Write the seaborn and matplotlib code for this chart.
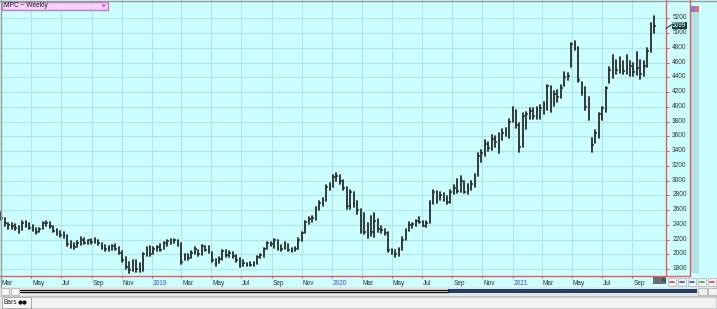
import numpy as np
import pandas as pd
import matplotlib
matplotlib.use("Agg")
import matplotlib.pyplot as plt
import matplotlib.dates as mdates
import matplotlib.transforms as mtransforms
from matplotlib.patches import Rectangle, Polygon, Circle
import seaborn as sns

# ---------------- data ----------------
title = "MPC ~ Weekly"
last_label = "5099"
tab_label = "Bars"
week_start = "2018-03-02"

highs = [2580, 2490, 2430, 2420, 2410, 2380, 2460, 2450, 2420, 2400,
         2360, 2360, 2440, 2450, 2440, 2390, 2340, 2320, 2300, 2260,
         2180, 2150, 2180, 2230, 2220, 2200, 2210, 2220, 2200, 2160,
         2130, 2120, 2130, 2140, 2100, 2040, 1960, 1900, 1920, 1920,
         1890, 2020, 2100, 2110, 2100, 2120, 2140, 2170, 2200, 2210,
         2210, 2200, 2150, 2010, 2000, 2040, 2100, 2060, 2130, 2120,
         2110, 2030, 1940, 1960, 2060, 2060, 2040, 2030, 1990, 1950,
         1920, 1890, 1900, 1900, 1980, 2010, 2090, 2170, 2170, 2210,
         2200, 2130, 2170, 2140, 2090, 2100, 2220, 2310, 2460, 2510,
         2520, 2640, 2730, 2770, 2940, 2970, 3080, 3100, 3080, 3010,
         2920, 2880, 2850, 2730, 2620, 2560, 2420, 2520, 2560, 2480,
         2380, 2340, 2300, 2080, 2060, 2090, 2230, 2350, 2440, 2420,
         2470, 2510, 2450, 2450, 2730, 2880, 2860, 2850, 2830, 2790,
         2870, 2940, 3020, 3060, 2990, 2960, 3000, 3090, 3370, 3420,
         3550, 3520, 3620, 3600, 3640, 3700, 3720, 3830, 4000, 3960,
         3780, 3920, 3930, 3990, 3980, 4000, 4030, 4060, 4300, 4280,
         4220, 4230, 4300, 4470, 4460, 4870, 4890, 4810, 4340, 4270,
         4130, 3580, 3690, 3920, 4000, 4270, 4540, 4700, 4640, 4680,
         4620, 4700, 4620, 4600, 4740, 4640, 4620, 4800, 5140, 5230]

lows = [2470, 2380, 2350, 2340, 2330, 2290, 2330, 2370, 2340, 2320,
        2280, 2300, 2340, 2380, 2360, 2300, 2260, 2240, 2220, 2120,
        2090, 2080, 2100, 2130, 2140, 2140, 2140, 2150, 2130, 2080,
        2050, 2050, 2060, 2060, 2000, 1900, 1800, 1750, 1770, 1760,
        1760, 1770, 1980, 1980, 2000, 2040, 2040, 2080, 2120, 2140,
        2150, 2120, 1870, 1930, 1920, 1950, 2000, 1980, 1990, 2040,
        2020, 1900, 1840, 1880, 1920, 1960, 1960, 1950, 1900, 1830,
        1840, 1840, 1840, 1850, 1870, 1950, 1970, 2080, 2110, 2090,
        2060, 2050, 2080, 2040, 2030, 2050, 2080, 2180, 2290, 2410,
        2440, 2470, 2600, 2660, 2730, 2880, 2920, 2990, 2960, 2880,
        2620, 2620, 2640, 2550, 2290, 2280, 2220, 2250, 2230, 2300,
        2290, 2270, 2030, 2000, 1970, 1980, 2060, 2200, 2320, 2360,
        2380, 2420, 2380, 2370, 2430, 2680, 2700, 2740, 2720, 2680,
        2700, 2820, 2830, 2850, 2830, 2820, 2880, 2920, 3060, 3250,
        3340, 3400, 3420, 3450, 3380, 3550, 3600, 3580, 3800, 3720,
        3390, 3450, 3700, 3840, 3830, 3830, 3840, 3900, 3960, 3930,
        4010, 4060, 4120, 4280, 4360, 4540, 4770, 4340, 4160, 3960,
        3820, 3390, 3510, 3580, 3820, 3930, 4320, 4390, 4450, 4460,
        4440, 4450, 4420, 4420, 4430, 4380, 4420, 4540, 4740, 5000]

closes = [2500, 2420, 2400, 2380, 2360, 2330, 2430, 2390, 2360, 2340,
          2300, 2340, 2420, 2430, 2380, 2320, 2280, 2270, 2250, 2140,
          2110, 2100, 2160, 2200, 2160, 2190, 2170, 2200, 2150, 2100,
          2080, 2090, 2110, 2080, 2020, 1920, 1830, 1790, 1880, 1800,
          1780, 2000, 2080, 2000, 2070, 2100, 2060, 2150, 2180, 2190,
          2200, 2150, 1900, 1990, 1950, 2020, 2070, 2000, 2110, 2060,
          2040, 1930, 1870, 1940, 2040, 1990, 2020, 1980, 1920, 1850,
          1880, 1870, 1860, 1880, 1970, 1990, 2080, 2150, 2140, 2190,
          2080, 2070, 2140, 2060, 2060, 2080, 2200, 2290, 2440, 2480,
          2490, 2610, 2700, 2750, 2910, 2920, 3050, 3060, 3000, 2900,
          2650, 2850, 2680, 2600, 2320, 2300, 2260, 2300, 2460, 2340,
          2330, 2290, 2060, 2030, 2000, 2070, 2200, 2330, 2400, 2410,
          2450, 2440, 2390, 2430, 2700, 2850, 2760, 2800, 2750, 2710,
          2850, 2900, 2860, 2990, 2850, 2920, 2950, 3060, 3330, 3380,
          3500, 3440, 3560, 3520, 3440, 3650, 3680, 3800, 3950, 3760,
          3460, 3880, 3900, 3950, 3870, 3960, 3990, 4020, 4280, 4000,
          4180, 4130, 4260, 4400, 4420, 4850, 4800, 4360, 4200, 4000,
          3850, 3480, 3650, 3900, 3980, 4250, 4500, 4600, 4500, 4560,
          4480, 4520, 4560, 4470, 4520, 4450, 4560, 4760, 5120, 5099]

y_ticks = list(range(1800, 5201, 200))
month_ticks = pd.date_range("2018-03-01", "2021-09-01", freq="2MS")
month_labels = [d.strftime("%Y") if d.month == 1 else d.strftime("%b") for d in month_ticks]

# ---------------- style ----------------
sns.set_style("white")
plt.rcParams["font.family"] = ["Liberation Sans", "DejaVu Sans"]

W, H = 717, 309
fig = plt.figure(figsize=(W / 100, H / 100), dpi=100)
fig.patch.set_facecolor("#ececec")

CYAN = "#ccffff"
RED = "#f05a5a"

bg = fig.add_axes([0, 0, 1, 1], zorder=-10)
bg.set_xlim(0, W); bg.set_ylim(H, 0); bg.axis("off")
fg = fig.add_axes([0, 0, 1, 1], zorder=10)
fg.set_xlim(0, W); fg.set_ylim(H, 0); fg.axis("off")

# background areas
bg.add_patch(Rectangle((0, 0), W, 287, facecolor=CYAN, edgecolor="none"))
bg.add_patch(Rectangle((690, 12), 9, 261, facecolor="#b3e2e2", edgecolor="none"))
bg.add_patch(Rectangle((0, 287), W, 8, facecolor="#e4e4e4", edgecolor="none"))
bg.add_patch(Rectangle((0, 295), W, 14, facecolor="#e8e8e8", edgecolor="none"))

# ---------------- main chart ----------------
ax = fig.add_axes([0, (H - 276) / H, 666 / W, 276 / H], zorder=1)
ax.set_facecolor(CYAN)

dates = pd.date_range(week_start, periods=len(closes), freq="7D")
n = len(dates)
long = pd.DataFrame({
    "date": np.repeat(dates, 2),
    "price": np.ravel(np.column_stack([lows, highs])),
    "week": np.repeat(np.arange(n), 2),
})
sns.lineplot(data=long, x="date", y="price", units="week", estimator=None,
             color="#2a2a2a", lw=1.3, ax=ax, legend=False, sort=False)
dn = mdates.date2num(dates.to_pydatetime())
ax.hlines(closes, dn, dn + 3.5, color="#2a2a2a", lw=1.1)

ax.set_xlim(mdates.date2num(pd.Timestamp("2018-02-27")), mdates.date2num(pd.Timestamp("2021-11-08")))
ax.set_ylim(1708, 5448)
ax.set_xlabel(""); ax.set_ylabel("")

ax.set_yticks(y_ticks)
ax.set_yticklabels([str(v) for v in y_ticks])
ax.yaxis.tick_right()
ax.tick_params(axis="y", direction="out", length=2, width=0.8, color=RED, pad=2.5,
               labelsize=4.7, labelcolor="#333333", right=True, left=False)
off = mtransforms.ScaledTranslation(0, 1.5 / 100, fig.dpi_scale_trans)
for lab in ax.get_yticklabels():
    lab.set_transform(lab.get_transform() + off)

ax.set_xticks(mdates.date2num(month_ticks.to_pydatetime()))
ax.set_xticklabels(month_labels)
ax.tick_params(axis="x", direction="out", length=1.6, width=0.8, color=RED, pad=1.2,
               labelsize=4.7, bottom=True)
offx = mtransforms.ScaledTranslation(1 / 100, 0, fig.dpi_scale_trans)
for lab, txt in zip(ax.get_xticklabels(), month_labels):
    lab.set_horizontalalignment("left")
    lab.set_transform(lab.get_transform() + offx)
    lab.set_color("#3c50f0" if txt.isdigit() else "#333333")

ax.grid(True, color="#aee6e6", lw=0.8)
ax.set_axisbelow(True)
for s in ["left", "top"]:
    ax.spines[s].set_visible(False)
for s in ["bottom", "right"]:
    ax.spines[s].set_color(RED)
    ax.spines[s].set_linewidth(1.0)

# ---------------- overlays ----------------
# frame lines
fg.plot([0, W], [0.5, 0.5], color="#9a9a9a", lw=1)
fg.plot([0.5, 0.5], [0, 287], color="#9a9a9a", lw=1)
# right red panel border
fg.plot([689.5, 689.5], [0, 276], color=RED, lw=1)
fg.plot([666, 689.5], [276, 276], color=RED, lw=1)

# header box
fg.add_patch(Rectangle((1.5, 1.5), 106.5, 8.5, facecolor="#f6d2f6", edgecolor="#c878c8", lw=1))
fg.text(3.5, 5.9, title, fontsize=4.8, color="#222222", va="center", ha="left")
fg.add_patch(Polygon([[101.5, 4.5], [106, 4.5], [103.75, 7.2]], closed=True,
                     facecolor="#d83cd8", edgecolor="none"))

# top-right icons
fg.add_patch(Rectangle((690.5, 6), 4.2, 5.5, facecolor="#7080f0", edgecolor="none"))
fg.add_patch(Rectangle((695, 6), 4.2, 5.5, facecolor="#f07070", edgecolor="none"))

# last price label
fg.plot([666, 671.5], [28.5, 24.8], color="#16403f", lw=0.8)
fg.add_patch(Rectangle((671.5, 21.5), 15.5, 7.2, facecolor="#17403f", edgecolor="none"))
fg.text(679.2, 25.3, last_label, fontsize=4.7, color="#e6ffff", ha="center", va="center")

# dark box at bottom right of axis
fg.add_patch(Rectangle((653, 277), 12.5, 7, facecolor="#6e6e6e", edgecolor="none"))
fg.text(662, 280.8, "N", fontsize=4.5, color="#222222", ha="left", va="center")

# small buttons bottom right
btn_cols = ["#e04040", "#3050e0", "#3050e0", "#30b040", "#e04040"]
for k, c in enumerate(btn_cols):
    x0 = 667.5 + k * 10
    fg.add_patch(Rectangle((x0, 277.5), 8.5, 8, facecolor="#f2f2f2", edgecolor="#b0b0b0", lw=0.5))
    fg.plot([x0 + 2, x0 + 6.5], [281.5, 281.5], color=c, lw=1.2)

# scrollbar row
for x0 in [1, 10.5]:
    fg.add_patch(Rectangle((x0, 287.5), 8, 7, facecolor="#f4f4f4", edgecolor="#a8a8a8", lw=0.5))
fg.add_patch(Polygon([[3.5, 291], [6.5, 289.5], [6.5, 292.5]], closed=True, facecolor="#333333"))
fg.add_patch(Polygon([[13.5, 291], [16.0, 289.8], [16.0, 292.2]], closed=True, facecolor="#333333"))
fg.plot([20, 448], [290.3, 290.3], color="#111111", lw=0.9)
fg.plot([20, 448], [291.7, 291.7], color="#111111", lw=0.9)
fg.add_patch(Rectangle((448, 288.8), 249, 4.2, facecolor="#1e3f6c", edgecolor="none"))
for x0 in [698, 708]:
    fg.add_patch(Rectangle((x0, 287.5), 8.5, 7, facecolor="#f0f0f0", edgecolor="#a8a8a8", lw=0.5))
fg.add_patch(Polygon([[703.5, 291], [700.5, 289.5], [700.5, 292.5]], closed=True, facecolor="#555555"))
fg.add_patch(Polygon([[713.5, 291], [710.5, 289.5], [710.5, 292.5]], closed=True, facecolor="#555555"))

# bottom tab row
fg.plot([0, W], [295.5, 295.5], color="#c8c8c8", lw=0.8)
fg.add_patch(Rectangle((31, 297), 685, 11, facecolor="#f2f2f2", edgecolor="#c6c6c6", lw=0.6))
fg.add_patch(Rectangle((2, 297), 28.5, 11, facecolor="#f7f7f7", edgecolor="#a0a0a0", lw=0.6))
fg.text(4, 302.8, tab_label, fontsize=4.7, color="#222222", ha="left", va="center")
for cx in [20.5, 24.5]:
    fg.add_patch(Circle((cx, 302.5), 2.1, facecolor="#111111", edgecolor="none"))

fig.savefig("out.png", dpi=100)
